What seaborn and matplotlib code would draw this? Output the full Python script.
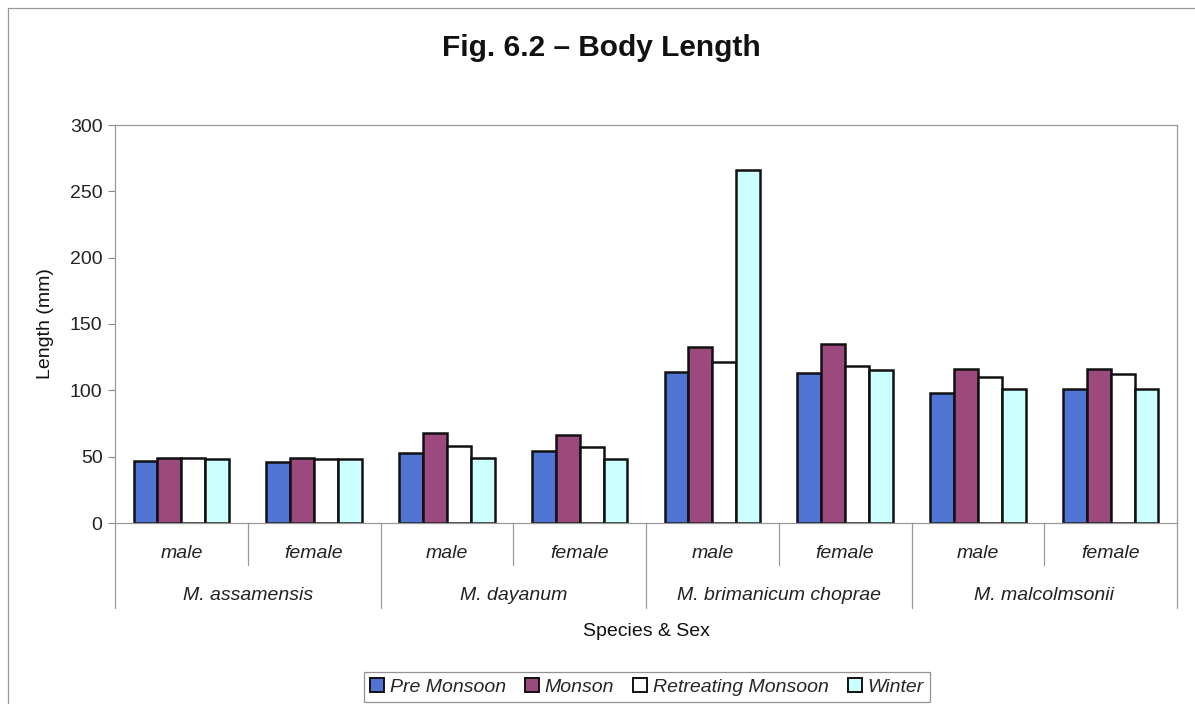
import matplotlib
matplotlib.use("Agg")
import matplotlib.pyplot as plt
import seaborn as sns
import pandas as pd
from matplotlib.patches import Patch
from matplotlib.lines import Line2D

species = ["M. assamensis", "M. dayanum", "M. brimanicum choprae", "M. malcolmsonii"]
sexes = ["male", "female"]
seasons = ["Pre Monsoon", "Monson", "Retreating Monsoon", "Winter"]
pre_monsoon = [47, 46, 53, 54, 114, 113, 98, 101]
monson = [49, 49, 68, 66, 133, 135, 116, 116]
retreating = [49, 48, 58, 57, 121, 118, 110, 112]
winter = [48, 48, 49, 48, 266, 115, 101, 101]
yticks = [0, 50, 100, 150, 200, 250, 300]

colors = ["#4F74D4", "#9C4A7E", "#FFFFFF", "#CCFFFF"]

groups = [f"{sp}|{sx}" for sp in species for sx in sexes]
rows = []
for name, vals in zip(seasons, [pre_monsoon, monson, retreating, winter]):
    for g, v in zip(groups, vals):
        rows.append({"group": g, "season": name, "length": v})
df = pd.DataFrame(rows)

sns.set_theme(style="white")
plt.rcParams["font.family"] = ["Liberation Sans", "DejaVu Sans"]

FS = 14
W, H = 1195, 704
fig = plt.figure(figsize=(W / 100, H / 100), dpi=100)
L, R, T, B = 115, 1177, 125, 523
ax = fig.add_axes([L / W, 1 - B / H, (R - L) / W, (B - T) / H])

sns.barplot(data=df, x="group", y="length", hue="season", order=groups,
            hue_order=seasons, palette=colors, width=0.72, gap=0,
            edgecolor="#111111", linewidth=1.8, saturation=1, ax=ax,
            legend=False)

ax.set_ylim(0, 300)
ax.set_xlim(-0.5, len(groups) - 0.5)
ax.set_yticks(yticks)
ax.set_yticklabels([str(t) for t in yticks], fontsize=FS, color="#222222")
ax.set_xticks([])
ax.set_xlabel("")
ax.set_ylabel("")
ax.tick_params(axis="y", direction="out", length=5, width=0.8, color="#888888", pad=4, left=True)
for s in ax.spines.values():
    s.set_visible(True)
    s.set_color("#999999")
    s.set_linewidth(0.9)

xt = ax.get_xaxis_transform()
sex_bottom = -(565 - 523) / (B - T)
sp_bottom = -(608 - 523) / (B - T)
for i in range(len(groups) + 1):
    x = -0.5 + i
    yb = sp_bottom if i % 2 == 0 else sex_bottom
    ax.plot([x, x], [0, yb], transform=xt, color="#999999", lw=0.9, clip_on=False)

for i, g in enumerate(groups):
    sx = g.split("|")[1]
    ax.text(i, -(553 - 523) / (B - T), sx, transform=xt, ha="center", va="center",
            fontsize=FS, style="italic", color="#222222")
for j, sp in enumerate(species):
    ax.text(2 * j + 0.5, -(596 - 523) / (B - T), sp, transform=xt, ha="center",
            va="center", fontsize=FS, style="italic", color="#222222")

fig.text(0.5 * (L + R) / W, 1 - 632 / H, "Species & Sex", ha="center", va="center",
         fontsize=FS, color="#111111")
fig.text(45 / W, 1 - 324 / H, "Length (mm)", ha="center", va="center",
         rotation=90, fontsize=FS, color="#111111")
fig.text(601 / W, 1 - 48 / H, "Fig. 6.2 \u2013 Body Length", ha="center", va="center",
         fontsize=21.5, fontweight="bold", color="#111111")

# figure border (left and top visible)
fig.add_artist(Line2D([8 / W, 8 / W], [0, 1 - 8 / H], transform=fig.transFigure,
                      color="#999999", lw=0.9))
fig.add_artist(Line2D([8 / W, 1], [1 - 8 / H, 1 - 8 / H], transform=fig.transFigure,
                      color="#999999", lw=0.9))

handles = [Patch(facecolor=c, edgecolor="#111111", linewidth=1.4) for c in colors]
leg = fig.legend(handles, seasons, loc="center", bbox_to_anchor=(647 / W, 1 - 687 / H),
                 ncol=4, frameon=True, fancybox=False, handlelength=0.7,
                 handleheight=0.7, handletextpad=0.3, columnspacing=1.0,
                 borderpad=0.3, prop={"size": FS, "style": "italic"})
leg.get_frame().set_edgecolor("#777777")
leg.get_frame().set_linewidth(0.9)

fig.savefig("out.png", dpi=100)
